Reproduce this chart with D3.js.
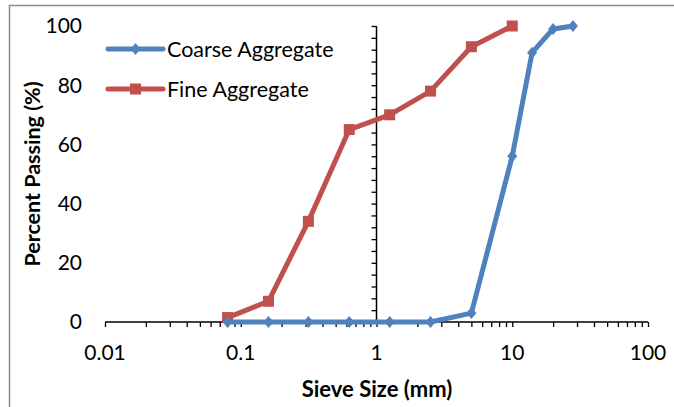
<!DOCTYPE html>
<html><head><meta charset="utf-8">
<script src="https://cdn.jsdelivr.net/npm/d3@7"></script>
<style>html,body{margin:0;padding:0;background:#fff;} svg{display:block;}</style>
</head><body>
<svg id="chart" width="674" height="407"></svg>
<script>
const sieveSizes = [0.08, 0.16, 0.315, 0.63, 1.25, 2.5, 5, 10, 14, 20, 28];
const coarseValues = [0, 0, 0, 0, 0, 0, 3, 56, 91, 99, 100];
const fineSizes = [0.08, 0.16, 0.315, 0.63, 1.25, 2.5, 5, 10];
const fineValues = [1.5, 7, 34, 65, 70, 78, 93, 100];
const xTickValues = [0.01, 0.1, 1, 10, 100];
const xTickLabels = ["0.01", "0.1", "1", "10", "100"];
const yTickValues = [0, 20, 40, 60, 80, 100];
const seriesNames = ["Coarse Aggregate", "Fine Aggregate"];
const seriesColors = ["#4F81BD", "#C0504D"];

const FONT = "Lato, 'Open Sans', sans-serif";
const svg = d3.select("#chart");
const x = d3.scaleLog().domain([0.01, 100]).range([105, 648]);
const y = d3.scaleLinear().domain([0, 100]).range([322, 26]);

// frame
svg.append("path").attr("d", "M9.5,407 L9.5,5.5 L674,5.5")
  .attr("fill", "none").attr("stroke", "#8c8c8c").attr("stroke-width", 1.5);

// minor x ticks (all log ticks)
const xMinor = [];
for (let d = -2; d < 2; d++) for (let k = 1; k < 10; k++) xMinor.push(k * Math.pow(10, d));
xMinor.push(100);

const xAxis = svg.append("g").attr("transform", `translate(0,${y(0)})`)
  .call(d3.axisBottom(x).tickValues(xMinor).tickSize(5).tickFormat(""));
xAxis.select(".domain").attr("stroke", "#000").attr("stroke-width", 1.5).attr("d", `M${x(0.01)},0H${x(100)}`);
xAxis.selectAll(".tick line").attr("stroke", "#000").attr("stroke-width", 1.3);

// x labels
svg.append("g").selectAll("text").data(xTickValues).join("text")
  .attr("x", d => x(d)).attr("y", 360)
  .attr("text-anchor", "middle").attr("font-family", FONT).attr("font-size", 21).attr("fill", "#000")
  .text((d, i) => xTickLabels[i]);

// y axis at x = 1
const yMinor = d3.range(0, 101, 4);
const yAxis = svg.append("g").attr("transform", `translate(${x(1)},0)`)
  .call(d3.axisLeft(y).tickValues(yMinor).tickSize(5).tickFormat(""));
yAxis.select(".domain").attr("stroke", "#000").attr("stroke-width", 1.5).attr("d", `M0,${y(0)}V${y(100)}`);
yAxis.selectAll(".tick line").attr("stroke", "#000").attr("stroke-width", 1.3);

// y labels on the left
svg.append("g").selectAll("text").data(yTickValues).join("text")
  .attr("x", 82).attr("y", d => y(d)).attr("dy", "0.35em")
  .attr("text-anchor", "end").attr("font-family", FONT).attr("font-size", 21).attr("fill", "#000")
  .text(d => d);

// titles
svg.append("text").attr("transform", `translate(40,${(y(0) + y(100)) / 2}) rotate(-90)`)
  .attr("text-anchor", "middle").attr("font-family", FONT).attr("font-weight", "bold").attr("font-size", 21.5)
  .attr("fill", "#000").text("Percent Passing (%)");
svg.append("text").attr("x", 377).attr("y", 397)
  .attr("text-anchor", "middle").attr("font-family", FONT).attr("font-weight", "bold").attr("font-size", 22)
  .attr("fill", "#000").text("Sieve Size (mm)");

const line = d3.line().x(d => x(d[0])).y(d => y(d[1]));
const coarse = sieveSizes.map((s, i) => [s, coarseValues[i]]);
const fine = fineSizes.map((s, i) => [s, fineValues[i]]);

const diamond = (cx, cy) => `M${cx},${cy - 6}L${cx + 5},${cy}L${cx},${cy + 6}L${cx - 5},${cy}Z`;
const SQ = 11;

// fine series
svg.append("path").datum(fine).attr("d", line).attr("fill", "none")
  .attr("stroke", seriesColors[1]).attr("stroke-width", 5).attr("stroke-linejoin", "round");
svg.append("g").selectAll("rect").data(fine).join("rect")
  .attr("x", d => x(d[0]) - SQ / 2).attr("y", d => y(d[1]) - SQ / 2)
  .attr("width", SQ).attr("height", SQ).attr("fill", seriesColors[1]);

// coarse series
svg.append("path").datum(coarse).attr("d", line).attr("fill", "none")
  .attr("stroke", seriesColors[0]).attr("stroke-width", 5).attr("stroke-linejoin", "round");
svg.append("g").selectAll("path").data(coarse).join("path")
  .attr("d", d => diamond(x(d[0]), y(d[1]))).attr("fill", seriesColors[0]);

// legend
const legY = [49, 89];
seriesNames.forEach((name, i) => {
  const g = svg.append("g");
  g.append("line").attr("x1", 108).attr("x2", 163).attr("y1", legY[i]).attr("y2", legY[i])
    .attr("stroke", seriesColors[i]).attr("stroke-width", 5).attr("stroke-linecap", "round");
  if (i === 0) g.append("path").attr("d", diamond(135.5, legY[i])).attr("fill", seriesColors[i]);
  else g.append("rect").attr("x", 135.5 - SQ / 2).attr("y", legY[i] - SQ / 2).attr("width", SQ).attr("height", SQ).attr("fill", seriesColors[i]);
  g.append("text").attr("x", 167).attr("y", legY[i]).attr("dy", "0.35em")
    .attr("font-family", FONT).attr("font-size", 21.5).attr("fill", "#000").text(name);
});
</script>
</body></html>
